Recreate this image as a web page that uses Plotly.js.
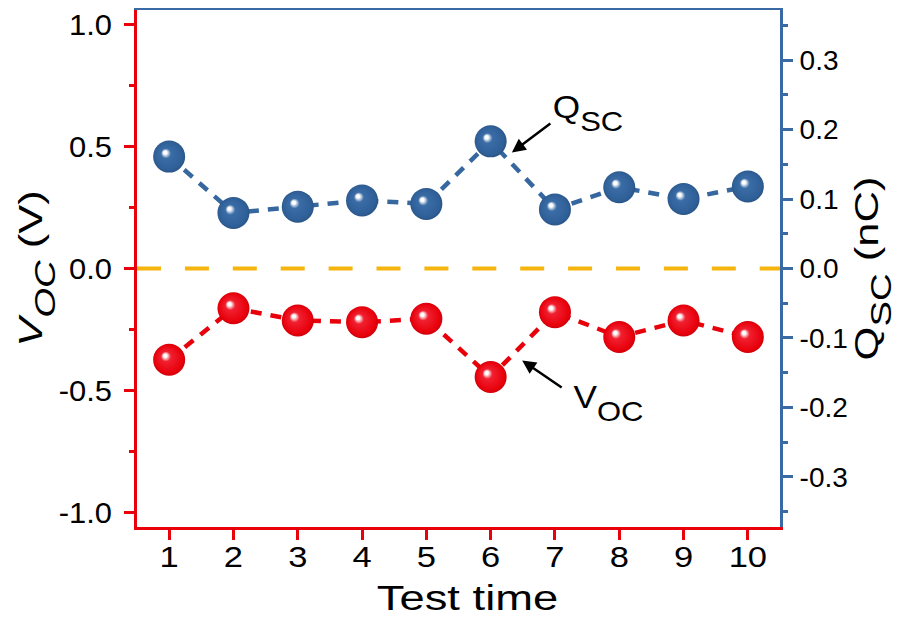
<!DOCTYPE html>
<html>
<head>
<meta charset="utf-8">
<script src="https://cdn.plot.ly/plotly-3.0.1.min.js"></script>
<style>
html,body{margin:0;padding:0;background:#fff;}
#chart{width:905px;height:622px;}
</style>
</head>
<body>
<div id="chart"></div>
<script>
// ---- data ----
var testTime = [1, 2, 3, 4, 5, 6, 7, 8, 9, 10];
var vocValues = [-0.374, -0.163, -0.213, -0.220, -0.206, -0.445, -0.179, -0.281, -0.213, -0.281];
var qscValues = [0.161, 0.080, 0.089, 0.098, 0.093, 0.183, 0.085, 0.117, 0.100, 0.118];
var xTickVals = [1, 2, 3, 4, 5, 6, 7, 8, 9, 10];
var xTickText = ['1', '2', '3', '4', '5', '6', '7', '8', '9', '10'];
var vTickVals = [-1.0, -0.5, 0.0, 0.5, 1.0];
var vTickText = ['-1.0', '-0.5', '0.0', '0.5', '1.0'];
var vMinorVals = [-0.75, -0.25, 0.25, 0.75];
var qTickVals = [-0.3, -0.2, -0.1, 0.0, 0.1, 0.2, 0.3];
var qTickText = ['-0.3', '-0.2', '-0.1', '0.0', '0.1', '0.2', '0.3'];
var qMinorVals = [-0.35, -0.25, -0.15, -0.05, 0.05, 0.15, 0.25, 0.35];

var RED = '#E8000B';
var BLUE = '#3A6AA3';
var MBLUE = '#2F5F97';
var FONT = 'Liberation Sans, Arial, sans-serif';

var traceV = {
  x: testTime, y: vocValues, xaxis: 'x', yaxis: 'y',
  type: 'scatter', mode: 'lines+markers', uid: 'voc',
  line: {color: RED, width: 4.5, dash: '11px,9px'},
  marker: {size: 32, color: RED, line: {width: 0}, gradient: {type: 'radial', color: '#ffffff'}},
  showlegend: false, hoverinfo: 'skip'
};
var traceQ = {
  x: testTime, y: qscValues, xaxis: 'x2', yaxis: 'y2',
  type: 'scatter', mode: 'lines+markers', uid: 'qsc',
  line: {color: '#36679E', width: 4.5, dash: '11px,9px'},
  marker: {size: 32, color: MBLUE, line: {width: 0}, gradient: {type: 'radial', color: '#ffffff'}},
  showlegend: false, hoverinfo: 'skip'
};

var layout = {
  width: 905, height: 622,
  margin: {l: 137, r: 125, t: 10, b: 95, pad: 0},
  paper_bgcolor: '#ffffff', plot_bgcolor: '#ffffff',
  font: {family: FONT, color: '#000000', size: 24},
  xaxis: {
    range: [0.5, 10.5], tickmode: 'array', tickvals: xTickVals, ticktext: xTickText,
    ticks: 'outside', ticklen: 10, tickwidth: 3, tickcolor: RED,
    showline: true, linecolor: RED, linewidth: 3, showgrid: false, zeroline: false,
    tickfont: {size: 30, family: FONT, color: '#000'}, ticklabelstandoff: -5,
    title: {text: 'Test time', font: {size: 36, family: FONT, color: '#000'}, standoff: 0},
    fixedrange: true
  },
  xaxis2: {
    range: [0.5, 10.5], overlaying: 'x', side: 'top', anchor: 'y2',
    showline: true, linecolor: BLUE, linewidth: 2.5, showgrid: false, zeroline: false,
    ticks: '', showticklabels: false, fixedrange: true
  },
  yaxis: {
    range: [-1.06, 1.06], tickmode: 'array', tickvals: vTickVals, ticktext: vTickText,
    ticks: 'outside', ticklen: 10, tickwidth: 3, tickcolor: RED,
    minor: {tickmode: 'array', tickvals: vMinorVals, ticks: 'outside', ticklen: 5, tickwidth: 3, tickcolor: RED, showgrid: false},
    showline: true, linecolor: RED, linewidth: 3, showgrid: false, zeroline: false,
    tickfont: {size: 30, family: FONT, color: '#000'}, ticklabelstandoff: 6,
    title: {text: '<i>V</i><sub><i>OC</i></sub> (V)', font: {size: 33, family: FONT, color: '#000'}, standoff: 8},
    fixedrange: true
  },
  yaxis2: {
    range: [-0.372, 0.372], overlaying: 'y', side: 'right', anchor: 'x2',
    tickmode: 'array', tickvals: qTickVals, ticktext: qTickText,
    ticks: 'outside', ticklen: 10, tickwidth: 3, tickcolor: BLUE,
    minor: {tickmode: 'array', tickvals: qMinorVals, ticks: 'outside', ticklen: 5, tickwidth: 3, tickcolor: BLUE, showgrid: false},
    showline: true, linecolor: BLUE, linewidth: 3, showgrid: false, zeroline: false,
    tickfont: {size: 28, family: FONT, color: '#000'}, ticklabelstandoff: 1,
    title: {text: 'Q<sub>SC</sub> (nC)', font: {size: 33, family: FONT, color: '#000'}, standoff: 0},
    fixedrange: true
  },
  shapes: [{
    type: 'line', xref: 'paper', x0: 0, x1: 1, yref: 'y', y0: 0, y1: 0,
    line: {color: '#F6B40E', width: 4, dash: '24px,23.9px'}, layer: 'above'
  }],
  annotations: [
    {xref: 'x2', yref: 'y2', x: 6.33, y: 0.167, ax: 40, ay: -30, axref: 'pixel', ayref: 'pixel',
     text: '', showarrow: true, arrowhead: 2, arrowsize: 1.1, arrowwidth: 2.5, arrowcolor: '#000', standoff: 0},
    {xref: 'x2', yref: 'y2', x: 7.05, y: 0.229, xanchor: 'left', yanchor: 'middle', showarrow: false,
     text: 'Q<sub>SC</sub>', font: {size: 32, family: FONT, color: '#000'}},
    {xref: 'x', yref: 'y', x: 6.49, y: -0.377, ax: 41, ay: 28, axref: 'pixel', ayref: 'pixel',
     text: '', showarrow: true, arrowhead: 2, arrowsize: 1.1, arrowwidth: 2.5, arrowcolor: '#000', standoff: 0},
    {xref: 'x', yref: 'y', x: 7.38, y: -0.538, xanchor: 'left', yanchor: 'middle', showarrow: false,
     text: 'V<sub>OC</sub>', font: {size: 32, family: FONT, color: '#000'}}
  ]
};

function shade(hex, f) {
  var r = parseInt(hex.substr(1, 2), 16), g = parseInt(hex.substr(3, 2), 16), b = parseInt(hex.substr(5, 2), 16);
  return 'rgb(' + Math.round(r * f) + ',' + Math.round(g * f) + ',' + Math.round(b * f) + ')';
}

// widen text along its own direction (reference uses a wide sans face)
function stretch(sel, s, dx, dy) {
  document.querySelectorAll(sel).forEach(function (el) {
    var x = parseFloat(el.getAttribute('x')) || 0, y = parseFloat(el.getAttribute('y')) || 0;
    var t = el.getAttribute('transform') || '';
    var shift = (dx || dy) ? ' translate(' + (dx || 0) + ',' + (dy || 0) + ')' : '';
    el.setAttribute('transform', t + shift + ' translate(' + x + ',' + y + ') scale(' + s + ',1) translate(' + (-x) + ',' + (-y) + ')');
  });
}

Plotly.newPlot('chart', [traceV, traceQ], layout, {staticPlot: true, displayModeBar: false}).then(function () {
  var NS = 'http://www.w3.org/2000/svg';
  // sphere-like shading
  document.querySelectorAll('radialGradient').forEach(function (g) {
    var base = MBLUE;
    g.querySelectorAll('stop').forEach(function (s) {
      var c = (s.getAttribute('stop-color') || s.style.stopColor || '').replace(/\s/g, '').toLowerCase();
      if (c.indexOf('232,0,11') >= 0 || c === RED.toLowerCase()) base = RED;
    });
    while (g.firstChild) g.removeChild(g.firstChild);
    g.setAttribute('cx', '0.5'); g.setAttribute('cy', '0.5'); g.setAttribute('r', '0.52');
    g.setAttribute('fx', '0.36'); g.setAttribute('fy', '0.36');
    var mid = base === RED ? '#F02030' : '#3A6CA6';
    var def = [[0, '#ffffff', 1], [0.10, '#ffffff', 0.95], [0.30, mid, 1], [0.85, base, 1], [1, shade(base, 0.85), 1]];
    def.forEach(function (d) {
      var st = document.createElementNS(NS, 'stop');
      st.setAttribute('offset', d[0]);
      st.setAttribute('stop-color', d[1]);
      st.setAttribute('stop-opacity', d[2]);
      g.appendChild(st);
    });
  });
  // larger, lower subscripts
  document.querySelectorAll('#chart tspan').forEach(function (t) {
    var dy = t.getAttribute('dy');
    if (dy === '0.3em') { t.setAttribute('dy', '0.45em'); t.style.fontSize = '88%'; }
    else if (dy === '-0.21em') { t.setAttribute('dy', '-0.396em'); }
  });
  stretch('#chart .xtick text', 1.15, 0, -4);
  stretch('#chart .ytick text', 1.03);
  stretch('#chart .y2tick text', 1.0);
  stretch('#chart .xtitle', 1.26, 9, 0);
  stretch('#chart .ytitle', 1.32);
  stretch('#chart .y2title', 1.32);
  stretch('#chart .annotation-text', 1.1);
});
</script>
</body>
</html>
